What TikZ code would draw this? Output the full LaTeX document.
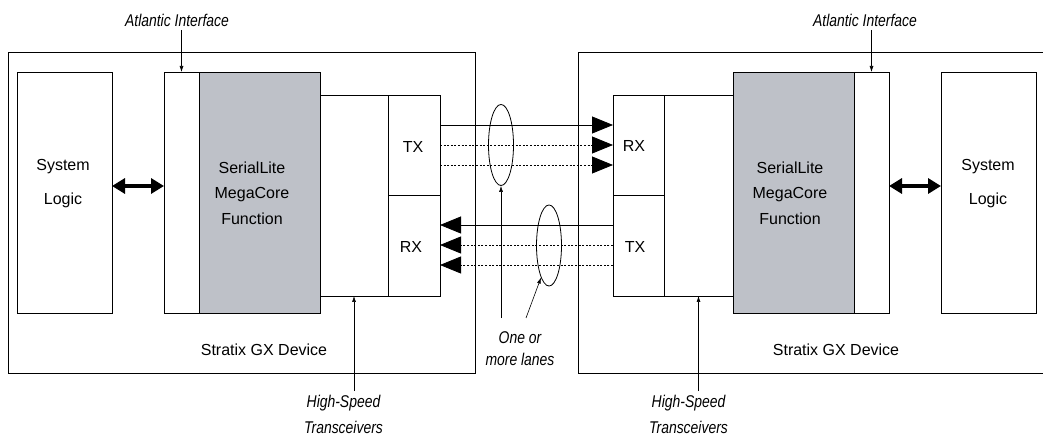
\documentclass[tikz,border=0pt]{standalone}
\usepackage{fontspec}
\setmainfont{Liberation Sans}
\usetikzlibrary{arrows.meta,shapes.geometric}
\definecolor{coregray}{RGB}{190,193,200}
\tikzset{
  box/.style={draw, line width=0.8pt, inner sep=0pt, outer sep=0pt, anchor=north west},
  lbl/.style={font=\fontsize{16}{18}\selectfont, inner sep=0pt},
  note/.style={font=\fontsize{17}{26}\selectfont\itshape, inner sep=0pt, align=center, xscale=0.82},
  lane/.style={line width=0.8pt, -{Triangle[length=21pt,width=17pt]}},
  dotlane/.style={lane, dash pattern=on 2pt off 1.6pt},
  dblarrow/.style={line width=3.8pt, {Triangle[length=13pt,width=15pt]}-{Triangle[length=13pt,width=15pt]}},
  ptr/.style={line width=0.6pt, -{Latex[length=6pt,width=4pt]}},
  lanering/.style={draw, ellipse, line width=0.8pt, inner sep=0pt, minimum width=25pt, minimum height=81pt}
}
\begin{document}
\begin{tikzpicture}[x=1pt,y=-1pt]
\useasboundingbox (0,0) rectangle (1043,435);
\clip (0,0) rectangle (1043,435);
% left device
\node[box, minimum width=467pt, minimum height=321pt] (devL) at (8,52) {};
\node[box, minimum width=95pt, minimum height=241pt] (sysL) at (17,72) {};
\node[box, minimum width=35pt, minimum height=241pt] (atlL) at (164,72) {};
\node[box, fill=coregray, minimum width=121pt, minimum height=241pt] (slL) at (199,72) {};
\node[box, minimum width=68pt, minimum height=201pt] (trL) at (320,95) {};
\node[box, minimum width=52pt, minimum height=100pt] (txL) at (388,95) {};
\node[box, minimum width=52pt, minimum height=101pt] (rxL) at (388,195) {};
% right device
\node[box, minimum width=500pt, minimum height=321pt] (devR) at (578,52) {};
\node[box, minimum width=51pt, minimum height=100pt] (rxR) at (613,95) {};
\node[box, minimum width=51pt, minimum height=101pt] (txR) at (613,195) {};
\node[box, minimum width=69pt, minimum height=201pt] (trR) at (664,95) {};
\node[box, fill=coregray, minimum width=121pt, minimum height=241pt] (slR) at (733,72) {};
\node[box, minimum width=35pt, minimum height=241pt] (atlR) at (854,72) {};
\node[box, minimum width=95pt, minimum height=241pt] (sysR) at (941,72) {};
% texts inside
\node[lbl, align=center, font=\fontsize{16}{34}\selectfont] (sysLt) at (63,184) {System\\Logic};
\node[lbl, align=center, font=\fontsize{16}{34}\selectfont] (sysRt) at (988,184) {System\\Logic};
\node[lbl, align=center, font=\fontsize{16}{25.5}\selectfont] (slLt) at (252,193) {SerialLite\\MegaCore\\Function};
\node[lbl, align=center, font=\fontsize{16}{25.5}\selectfont] (slRt) at (790,193) {SerialLite\\MegaCore\\Function};
\node[lbl] (txLt) at (413,147) {TX};
\node[lbl] (rxLt) at (411,247) {RX};
\node[lbl] (rxRt) at (634,146) {RX};
\node[lbl] (txRt) at (635,247) {TX};
\node[lbl] (stL) at (264,350) {Stratix GX Device};
\node[lbl] (stR) at (836,350) {Stratix GX Device};
% double arrows
\coordinate (busy) at (0,186);
\draw[dblarrow] (sysL.east |- busy) -- (atlL.west |- busy);
\draw[dblarrow] (atlR.east |- busy) -- (sysR.west |- busy);
% lanes left to right
\draw[lane] (txL.east |- 0,125) -- (rxR.west |- 0,125);
\draw[dotlane] (txL.east |- 0,145) -- (rxR.west |- 0,145);
\draw[dotlane] (txL.east |- 0,165) -- (rxR.west |- 0,165);
% lanes right to left
\draw[lane] (txR.west |- 0,225) -- (rxL.east |- 0,225);
\draw[dotlane] (txR.west |- 0,245) -- (rxL.east |- 0,245);
\draw[dotlane] (txR.west |- 0,265) -- (rxL.east |- 0,265);
% lane rings
\node[lanering] (ell1) at (501,145) {};
\node[lanering] (ell2) at (549,245.5) {};
% annotations
\node[note] (aiL) at (177,20) {Atlantic Interface};
\node[note] (aiR) at (865,20) {Atlantic Interface};
\draw[ptr] (atlL.north |- 0,30) -- (atlL.north);
\draw[ptr] (atlR.north |- 0,30) -- (atlR.north);
\node[note] (hsL) at (343.5,414) {High-Speed\\Transceivers};
\node[note] (hsR) at (688.5,414) {High-Speed\\Transceivers};
\draw[ptr] (trL.south |- 0,391) -- (trL.south);
\draw[ptr] (trR.south |- 0,391) -- (trR.south);
\node[note, font=\fontsize{17}{22}\selectfont\itshape] (lanes) at (520,349) {One or\\more lanes};
\coordinate (p1) at (ell1.south |- 0,318);
\coordinate (p2) at (526,318);
\draw[ptr] (p1) -- (ell1.south);
\draw[ptr] (p2) -- (ell2.256);
\end{tikzpicture}
\end{document}
